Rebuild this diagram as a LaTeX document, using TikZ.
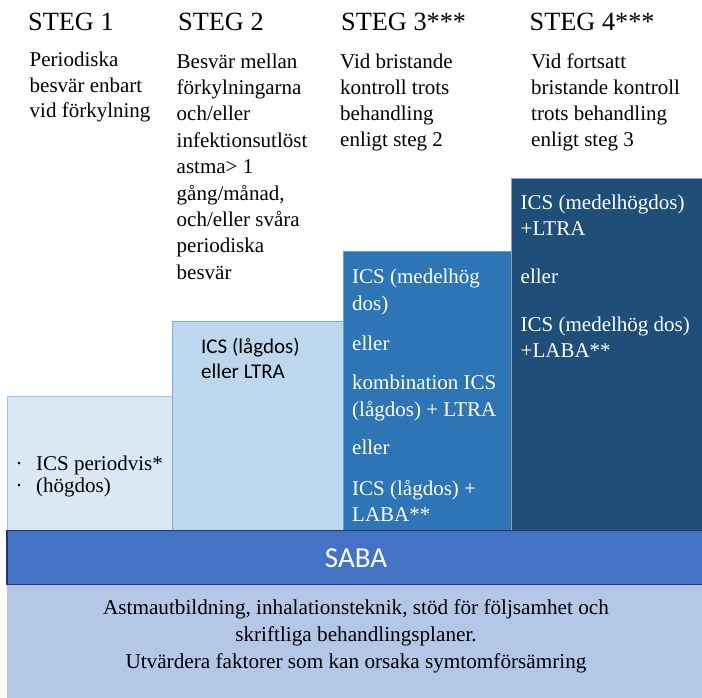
\documentclass[tikz,border=0pt]{standalone}
\usepackage{fontspec}
\setmainfont{Liberation Serif}
\newfontfamily\calib{Carlito}
\definecolor{sonefill}{HTML}{DAE7F5}
\definecolor{soneline}{HTML}{9DC3E6}
\definecolor{stwofill}{HTML}{BDD7EE}
\definecolor{stwoline}{HTML}{7FAEDC}
\definecolor{sthreefill}{HTML}{2E75B6}
\definecolor{sthreeline}{HTML}{6A9FD3}
\definecolor{sfourfill}{HTML}{1F4E79}
\definecolor{sfourline}{HTML}{8FA3B8}
\definecolor{sabafill}{HTML}{4472C4}
\definecolor{sabaline}{HTML}{1F3864}
\definecolor{basefill}{HTML}{B4C7E7}
\tikzset{
  txt/.style={inner sep=0pt, anchor=base west, align=left},
  headtxt/.style={txt, font=\fontsize{26.3}{30}\selectfont},
  bodytxt/.style={txt, font=\fontsize{21}{25.6}\selectfont},
  wtxt/.style={txt, text=white, font=\fontsize{21}{26.5}\selectfont},
}
\begin{document}
\begin{tikzpicture}[x=1pt,y=-1pt]
\useasboundingbox (0,0) rectangle (702,698);
\fill[white] (0,0) rectangle (702,698);
% step boxes
\draw[soneline, fill=sonefill, line width=1pt] (7.3,396.7) rectangle (173,530);
\draw[stwoline, fill=stwofill, line width=1pt] (172.7,321.5) rectangle (343.3,530);
\draw[sthreeline, fill=sthreefill, line width=0.8pt] (343.3,251) rectangle (512,530);
\draw[sfourline, fill=sfourfill, line width=0.8pt] (511.7,178.3) rectangle (708,530);
\fill[sfourfill] (512.2,178.8) -- (512.2,529.6) -- (513,529.6) -- (513,178.8) -- cycle;
% base box and SABA bar
\fill[basefill] (6.5,584) rectangle (708,708);
\draw[sabaline, fill=sabafill, line width=1.6pt] (7,530.5) rectangle (708,584.5);
% headers
\node[headtxt] (h1) at (28,31) {STEG 1};
\node[headtxt] (h2) at (178,31) {STEG 2};
\node[headtxt] (h3) at (341,31) {STEG 3***};
\node[headtxt] (h4) at (529.5,31) {STEG 4***};
% descriptions (anchor = baseline of last line)
\node[bodytxt, font=\fontsize{21}{25.6}\selectfont] (d1) at (29.5,117.7) {Periodiska\\besvär enbart\\vid förkylning};
\node[bodytxt, font=\fontsize{21}{26.4}\selectfont] (d2) at (176.5,279.3) {Besvär mellan\\förkylningarna\\och/eller\\infektionsutlöst\\astma> 1\\gång/månad,\\och/eller svåra\\periodiska\\besvär};
\node[bodytxt, font=\fontsize{21}{26.1}\selectfont] (d3) at (340,146.7) {Vid bristande\\kontroll trots\\behandling\\enligt steg 2};
\node[bodytxt, font=\fontsize{21}{26.1}\selectfont] (d4) at (531,146.7) {Vid fortsatt\\bristande kontroll\\trots behandling\\enligt steg 3};
% step 1 box text
\node[bodytxt, font=\fontsize{21}{22}\selectfont] (b1dots) at (15.5,492) {·\\·};
\node[bodytxt, font=\fontsize{21}{22}\selectfont] (b1) at (36,492) {ICS periodvis*\\(högdos)};
% step 2 box text
\node[txt, font=\calib\fontsize{21}{25}\selectfont] (b2) at (201,378.5) {ICS (lågdos)\\eller LTRA};
% step 3 box text
\node[wtxt, font=\fontsize{21}{27.5}\selectfont] (b3a) at (352,310.5) {ICS (medelhög\\dos)};
\node[wtxt] (b3b) at (352,350.5) {eller};
\node[wtxt, font=\fontsize{21}{27}\selectfont] (b3c) at (352,416) {kombination ICS\\(lågdos) + LTRA};
\node[wtxt] (b3d) at (352,454.5) {eller};
\node[wtxt, font=\fontsize{21}{26}\selectfont] (b3e) at (352,521.5) {ICS (lågdos) +\\LABA**};
% step 4 box text
\node[wtxt] (b4a) at (520.5,236) {ICS (medelhögdos)\\+LTRA};
\node[wtxt] (b4b) at (520.5,283.5) {eller};
\node[wtxt, font=\fontsize{21}{25.5}\selectfont] (b4c) at (520.5,357) {ICS (medelhög dos)\\+LABA**};
% SABA
\node[inner sep=0pt, text=white, font=\calib\fontsize{29}{30}\selectfont] (saba) at (356,558) {SABA};
% base text
\node[inner sep=0pt, anchor=base, align=center, font=\fontsize{21.2}{27}\selectfont] (basetxt) at (356,668) {Astmautbildning, inhalationsteknik, stöd för följsamhet och\\skriftliga behandlingsplaner.\\Utvärdera faktorer som kan orsaka symtomförsämring};
\end{tikzpicture}
\end{document}
